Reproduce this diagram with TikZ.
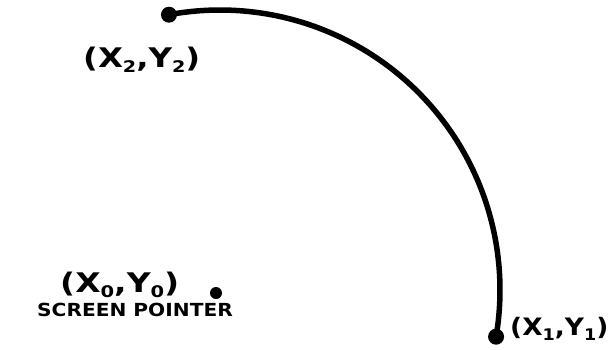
\documentclass[tikz,border=0pt]{standalone}
\usepackage{fontspec}
\usetikzlibrary{calc}
\setmainfont{DejaVu Sans}
\newcommand{\lowidx}[1]{\raisebox{-5pt}{\fontsize{16pt}{16pt}\selectfont #1}}
\begin{document}
\begin{tikzpicture}[x=1pt,y=-1pt,
  curve/.style={line width=5.5pt},
  bigdot/.style={circle,fill=black,inner sep=0pt,minimum size=16pt},
  smalldot/.style={circle,fill=black,inner sep=0pt,minimum size=12pt},
  lbl/.style={inner sep=0pt,anchor=base west,font=\bfseries\fontsize{27pt}{27pt}\selectfont},
  small/.style={inner sep=0pt,anchor=base west,font=\bfseries\fontsize{18pt}{18pt}\selectfont}]
\useasboundingbox (0,0) rectangle (616,349);
\coordinate (c) at (220,290);
\node[bigdot] (p2) at ($(c)+(-100.5:280)$) {};
\node[bigdot] (p1) at ($(c)+(9.6:280)$) {};
\draw[curve] (p2.center) arc[start angle=-100.5, end angle=9.6, radius=280];
\node[smalldot] (p0) at (216,293) {};
\node[lbl] (l2) at (83,67) {\scalebox{1.2}[1]{(X\lowidx{2},Y\lowidx{2})}};
\node[lbl] (l0) at (60,292) {\scalebox{1.22}[1]{(X\lowidx{0},Y\lowidx{0})}};
\node[lbl,font=\bfseries\fontsize{24pt}{24pt}\selectfont] (l1) at (510,335) {\scalebox{1.1}[1]{(X\lowidx{1},Y\lowidx{1})}};
\node[small] (sp) at (37,316) {\scalebox{1.12}[1]{SCREEN POINTER}};
\end{tikzpicture}
\end{document}
